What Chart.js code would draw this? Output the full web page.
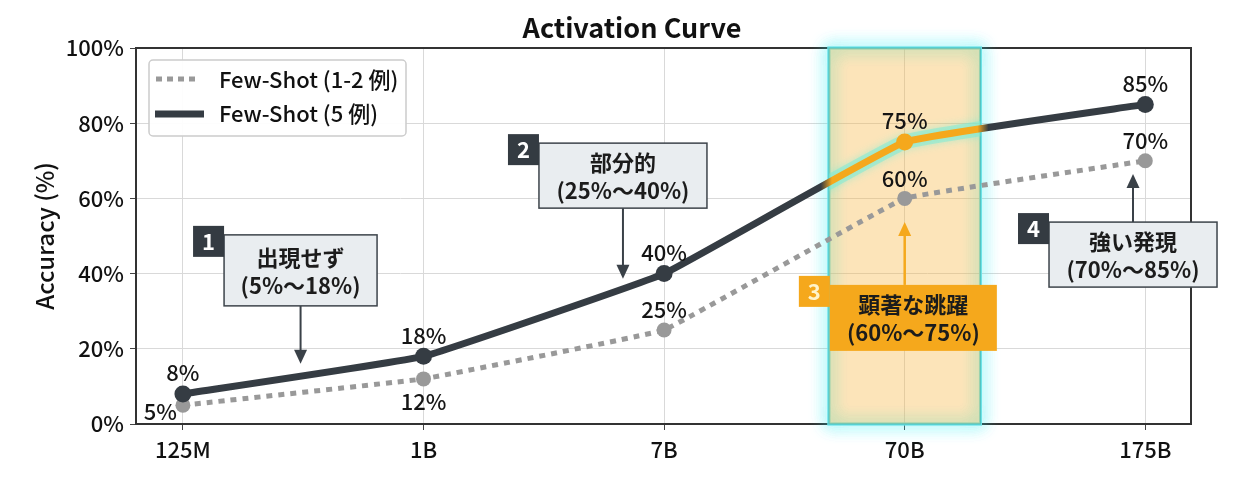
<!DOCTYPE html>
<html>
<head>
<meta charset="utf-8">
<script src="https://cdn.jsdelivr.net/npm/chart.js@4.4.1/dist/chart.umd.min.js"></script>
<style>
  html, body { margin: 0; padding: 0; background: #fff; }
  #wrap { width: 1240px; height: 480px; position: relative; }
</style>
</head>
<body>
<div id="wrap"><canvas id="chart"></canvas></div>
<script>
// chart data
var categories = ['125M', '1B', '7B', '70B', '175B'];
var fewShot12 = [5, 12, 25, 60, 70];
var fewShot5 = [8, 18, 40, 75, 85];
var seriesNames = ['Few-Shot (1-2 例)', 'Few-Shot (5 例)'];
var chartTitle = 'Activation Curve';
var yTitle = 'Accuracy (%)';
var bandIndex = 3;

// callout texts
var noteTitles = ['出現せず', '部分的', '顕著な跳躍', '強い発現'];
var noteRanges = ['(5%〜18%)', '(25%〜40%)', '(60%〜75%)', '(70%〜85%)'];

// callout placement (x in category units, y in %), sizes in px
var noteLayout = [
    { x: 0.489, top: 50.3, w: 153, h: 71, ax: 0.489, tip: 16.0, dir: 'down' },
    { x: 1.829, top: 74.7, w: 168, h: 65, ax: 1.829, tip: 38.6, dir: 'down' },
    { x: 3.036, top: 37.0, w: 167, h: 66, ax: 3, tip: 53.7, dir: 'up', hot: true },
    { x: 3.949, top: 53.7, w: 168, h: 65, ax: 3.949, tip: 66.5, dir: 'up' }
];
var grayLabelPos = ['left', 'below', 'above', 'above', 'above'];

var DARK = '#353c43';
var GRAY = '#999999';
var ORANGE = '#f5a81c';
var FONT = '"Noto Sans CJK JP", "Noto Sans", sans-serif';
var bandHalf = 0.315;

Chart.defaults.font.family = FONT;
Chart.defaults.font.weight = '500';
Chart.defaults.color = '#111';

function toPoints(vals) {
    return vals.map(function (v, i) { return { x: i, y: v }; });
}

function bandEdges(chart) {
    var xs = chart.scales.x;
    return [xs.getPixelForValue(bandIndex - bandHalf), xs.getPixelForValue(bandIndex + bandHalf)];
}

function drawBand(chart) {
    var ctx = chart.ctx, a = chart.chartArea, e = bandEdges(chart);
    // frame on top and right
    ctx.save();
    ctx.strokeStyle = '#333';
    ctx.lineWidth = 2;
    ctx.beginPath();
    ctx.moveTo(a.left, a.top);
    ctx.lineTo(a.right, a.top);
    ctx.lineTo(a.right, a.bottom);
    ctx.stroke();
    ctx.restore();

    ctx.save();
    ctx.strokeStyle = 'rgba(110,228,232,0.8)';
    ctx.lineWidth = 3;
    ctx.shadowColor = 'rgba(40,235,240,1)';
    ctx.shadowBlur = 16;
    for (var k = 0; k < 2; k++) {
        ctx.strokeRect(e[0], a.top, e[1] - e[0], a.bottom - a.top);
    }
    ctx.restore();

    ctx.save();
    ctx.fillStyle = 'rgba(247,183,70,0.38)';
    ctx.fillRect(e[0], a.top, e[1] - e[0], a.bottom - a.top);
    ctx.strokeStyle = 'rgba(70,190,190,0.8)';
    ctx.lineWidth = 1.2;
    ctx.strokeRect(e[0], a.top, e[1] - e[0], a.bottom - a.top);
    ctx.restore();
}

function drawLineGlow(chart, meta) {
    var ctx = chart.ctx, a = chart.chartArea, e = bandEdges(chart);
    if (!meta.dataset || typeof meta.dataset.path !== 'function') return;
    meta.dataset.updateControlPoints(a, 'x');
    ctx.save();
    ctx.beginPath();
    ctx.rect(e[0], a.top - 20, e[1] - e[0], a.bottom - a.top + 40);
    ctx.clip();
    ctx.strokeStyle = 'rgba(120,235,215,0.5)';
    ctx.lineWidth = 15;
    ctx.lineJoin = 'round';
    ctx.lineCap = 'round';
    ctx.shadowColor = 'rgba(90,240,220,0.8)';
    ctx.shadowBlur = 8;
    ctx.beginPath();
    meta.dataset.path(ctx);
    ctx.stroke();
    ctx.restore();
}

function drawLabels(chart) {
    var ctx = chart.ctx;
    var gray = chart.getDatasetMeta(0).data;
    var dark = chart.getDatasetMeta(1).data;
    ctx.save();
    ctx.font = '500 22px ' + FONT;
    ctx.fillStyle = '#151515';
    ctx.textBaseline = 'middle';
    ctx.textAlign = 'center';
    dark.forEach(function (p, i) {
        ctx.fillText(fewShot5[i] + '%', p.x, p.y - 21);
    });
    gray.forEach(function (p, i) {
        var pos = grayLabelPos[i];
        if (pos === 'left') {
            ctx.textAlign = 'right';
            ctx.fillText(fewShot12[i] + '%', p.x - 6, p.y + 6);
            ctx.textAlign = 'center';
        } else if (pos === 'below') {
            ctx.fillText(fewShot12[i] + '%', p.x, p.y + 23);
        } else {
            ctx.fillText(fewShot12[i] + '%', p.x, p.y - 20);
        }
    });
    ctx.restore();
}

function drawLegend(chart) {
    var ctx = chart.ctx, a = chart.chartArea;
    var x = a.left + 13, y = a.top + 12, w = 257, h = 76;
    ctx.save();
    ctx.fillStyle = 'rgba(255,255,255,0.95)';
    ctx.strokeStyle = '#cccccc';
    ctx.lineWidth = 1.5;
    ctx.beginPath();
    if (ctx.roundRect) ctx.roundRect(x, y, w, h, 4); else ctx.rect(x, y, w, h);
    ctx.fill();
    ctx.stroke();

    ctx.strokeStyle = GRAY;
    ctx.lineWidth = 5;
    ctx.setLineDash([6, 5]);
    ctx.beginPath();
    ctx.moveTo(x + 7, y + 19);
    ctx.lineTo(x + 48, y + 19);
    ctx.stroke();

    ctx.setLineDash([]);
    ctx.strokeStyle = DARK;
    ctx.lineWidth = 7;
    ctx.beginPath();
    ctx.moveTo(x + 6, y + 54);
    ctx.lineTo(x + 55, y + 54);
    ctx.stroke();

    ctx.fillStyle = '#111';
    ctx.font = '500 22px ' + FONT;
    ctx.textBaseline = 'middle';
    ctx.textAlign = 'left';
    ctx.fillText(seriesNames[0], x + 70, y + 20);
    ctx.fillText(seriesNames[1], x + 70, y + 54);
    ctx.restore();
}

function drawNote(chart, i) {
    var ctx = chart.ctx, xs = chart.scales.x, ys = chart.scales.y;
    var L = noteLayout[i];
    var cx = xs.getPixelForValue(L.x), top = ys.getPixelForValue(L.top);
    var left = cx - L.w / 2;
    var ax = xs.getPixelForValue(L.ax), tip = ys.getPixelForValue(L.tip);
    var down = L.dir === 'down';
    var start = down ? top + L.h : top;
    var sgn = down ? 1 : -1;
    var arrowColor = L.hot ? ORANGE : '#3a4148';

    ctx.save();
    ctx.strokeStyle = arrowColor;
    ctx.fillStyle = arrowColor;
    ctx.lineWidth = L.hot ? 2.5 : 2;
    ctx.beginPath();
    ctx.moveTo(ax, start);
    ctx.lineTo(ax, tip - sgn * 12);
    ctx.stroke();
    ctx.beginPath();
    ctx.moveTo(ax, tip);
    ctx.lineTo(ax - 6.5, tip - sgn * 14);
    ctx.lineTo(ax + 6.5, tip - sgn * 14);
    ctx.closePath();
    ctx.fill();

    ctx.fillStyle = L.hot ? ORANGE : '#e9edf0';
    ctx.fillRect(left, top, L.w, L.h);
    if (!L.hot) {
        ctx.strokeStyle = '#3d444b';
        ctx.lineWidth = 1.5;
        ctx.strokeRect(left, top, L.w, L.h);
    }

    ctx.fillStyle = L.hot ? ORANGE : '#343b42';
    ctx.fillRect(left - 31, top - 9, 31, 31);
    ctx.fillStyle = L.hot ? '#fff4cc' : '#fff';
    ctx.font = 'bold 22px ' + FONT;
    ctx.textAlign = 'center';
    ctx.textBaseline = 'middle';
    ctx.fillText(String(i + 1), left - 15.5, top + 7);

    ctx.fillStyle = '#1c1c1c';
    ctx.fillText(noteTitles[i], cx, top + L.h / 2 - 13);
    ctx.fillText(noteRanges[i], cx, top + L.h / 2 + 15);
    ctx.restore();
}

var extras = {
    id: 'extras',
    beforeDatasetsDraw: function (chart) {
        drawBand(chart);
    },
    beforeDatasetDraw: function (chart, args) {
        if (args.index === 1) drawLineGlow(chart, args.meta);
    },
    afterDatasetsDraw: function (chart) {
        drawLabels(chart);
        drawLegend(chart);
    },
    afterDraw: function (chart) {
        var ctx = chart.ctx;
        for (var i = 0; i < noteLayout.length; i++) drawNote(chart, i);
        ctx.save();
        ctx.font = 'bold 27px ' + FONT;
        ctx.fillStyle = '#111';
        ctx.textAlign = 'center';
        ctx.textBaseline = 'middle';
        ctx.fillText(chartTitle, 632, 28);
        ctx.restore();
    }
};

new Chart(document.getElementById('chart'), {
    type: 'line',
    data: {
        datasets: [{
            label: seriesNames[0],
            data: toPoints(fewShot12),
            borderColor: GRAY,
            borderWidth: 5,
            borderDash: [6, 6],
            borderCapStyle: 'butt',
            tension: 0.05,
            pointRadius: 7.5,
            pointBackgroundColor: GRAY,
            pointBorderWidth: 0,
            order: 1
        }, {
            label: seriesNames[1],
            data: toPoints(fewShot5),
            borderColor: function (c) {
                var chart = c.chart, a = chart.chartArea;
                if (!a || !chart.scales.x) return DARK;
                var e = bandEdges(chart);
                var f = function (px) {
                    return Math.min(1, Math.max(0, (px - a.left) / (a.right - a.left)));
                };
                var g = chart.ctx.createLinearGradient(a.left, 0, a.right, 0);
                g.addColorStop(0, DARK);
                g.addColorStop(f(e[0] - 8), DARK);
                g.addColorStop(f(e[0] + 3), ORANGE);
                g.addColorStop(f(e[1] - 3), ORANGE);
                g.addColorStop(f(e[1] + 8), DARK);
                g.addColorStop(1, DARK);
                return g;
            },
            borderWidth: 7,
            tension: 0.08,
            pointRadius: 8.5,
            pointBackgroundColor: function (c) {
                return c.dataIndex === bandIndex ? ORANGE : DARK;
            },
            pointBorderWidth: 0,
            order: 0
        }]
    },
    options: {
        responsive: true,
        maintainAspectRatio: false,
        animation: false,
        layout: { padding: { top: 48, right: 49, bottom: 0, left: 0 } },
        plugins: {
            legend: { display: false },
            title: { display: false },
            tooltip: { enabled: false }
        },
        scales: {
            x: {
                type: 'linear',
                min: -0.195,
                max: 4.19,
                afterFit: function (s) { s.height = 56; },
                ticks: {
                    stepSize: 1,
                    includeBounds: false,
                    padding: 6,
                    font: { size: 22, weight: '500' },
                    color: '#111',
                    callback: function (v) { return categories[v] || ''; }
                },
                grid: { color: '#d9d9d9', tickLength: 6, tickColor: '#444', lineWidth: 1 },
                border: { color: '#333', width: 2 }
            },
            y: {
                min: 0,
                max: 100,
                afterFit: function (s) { s.width = 136; },
                ticks: {
                    stepSize: 20,
                    padding: 6,
                    font: { size: 22, weight: '500' },
                    color: '#111',
                    callback: function (v) { return v + '%'; }
                },
                title: {
                    display: true,
                    text: yTitle,
                    font: { size: 24, weight: '500' },
                    color: '#111',
                    padding: { top: 30, bottom: 0 }
                },
                grid: { color: '#d9d9d9', tickLength: 6, tickColor: '#444', lineWidth: 1 },
                border: { color: '#333', width: 2 }
            }
        }
    },
    plugins: [extras]
});
</script>
</body>
</html>
